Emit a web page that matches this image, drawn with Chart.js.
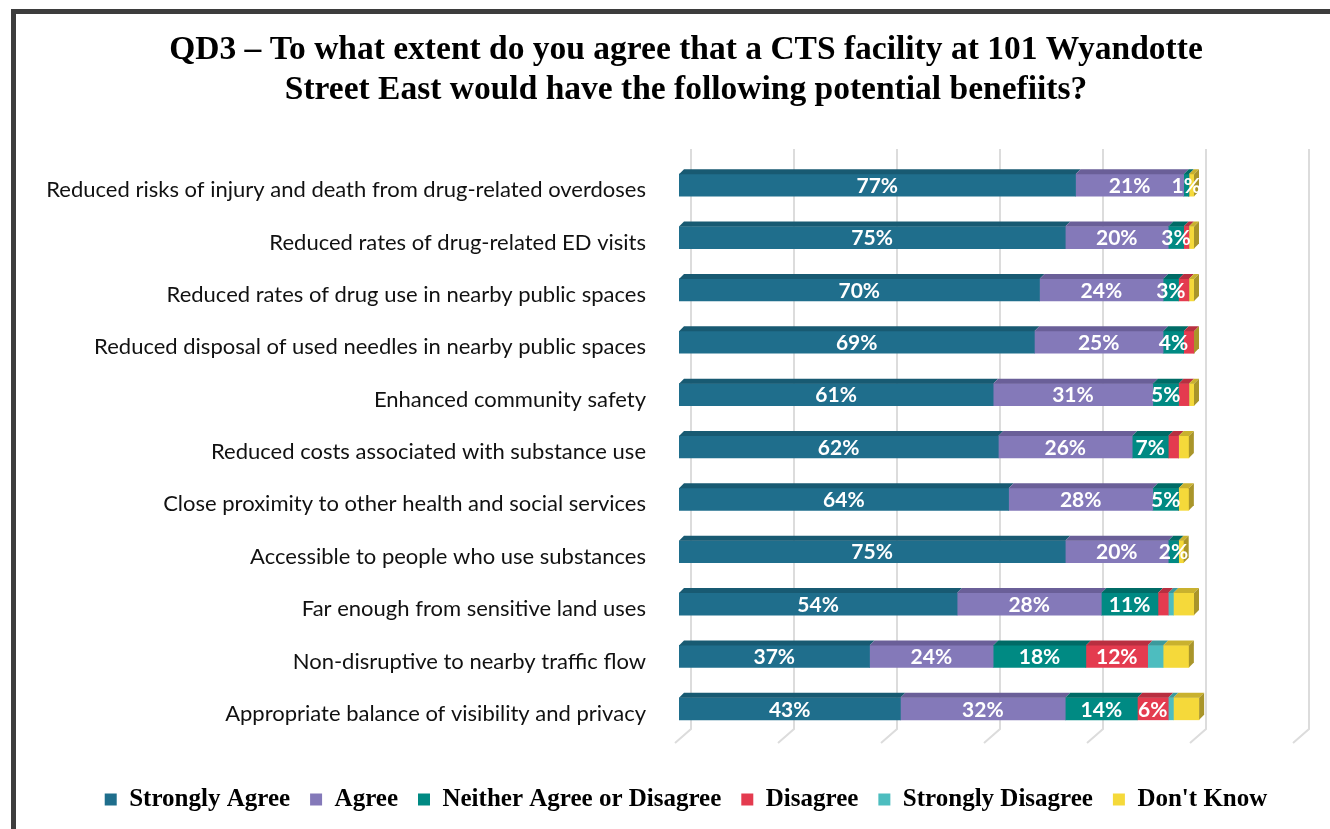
<!DOCTYPE html>
<html lang="en">
<head>
<meta charset="UTF-8">
<title>QD3 potential benefits</title>
<script src="https://cdn.jsdelivr.net/npm/chart.js"></script>
<style>
    body { margin: 0; background: #fff; overflow: hidden; }
    #frame {
        position: absolute; left: 11px; top: 9px; width: 1400px; height: 900px;
        border-left: 5px solid #3d3d3d; border-top: 5px solid #3d3d3d;
    }
    #wrap { position: absolute; left: 16px; top: 14px; width: 1340px; height: 815px; }
</style>
</head>
<body>
<div id="frame"></div>
<div id="wrap"><canvas id="chart"></canvas></div>
<script>
// categories, top to bottom
const categories = [
    'Reduced risks of injury and death from drug-related overdoses',
    'Reduced rates of drug-related ED visits',
    'Reduced rates of drug use in nearby public spaces',
    'Reduced disposal of used needles in nearby public spaces',
    'Enhanced community safety',
    'Reduced costs associated with substance use',
    'Close proximity to other health and social services',
    'Accessible to people who use substances',
    'Far enough from sensitive land uses',
    'Non-disruptive to nearby traffic flow',
    'Appropriate balance of visibility and privacy'
];

// percentages per answer
const stronglyAgree    = [77, 75, 70, 69, 61, 62, 64, 75, 54, 37, 43];
const agree            = [21, 20, 24, 25, 31, 26, 28, 20, 28, 24, 32];
const neither          = [1, 3, 3, 4, 5, 7, 5, 2, 11, 18, 14];
const disagree         = [0, 1, 2, 2, 2, 2, 0, 0, 2, 12, 6];
const stronglyDisagree = [0, 0, 0, 0, 0, 0, 0, 0, 1, 3, 1];
const dontKnow         = [1, 1, 1, 0, 1, 2, 2, 1, 4, 5, 5];

const seriesNames = ['Strongly Agree', 'Agree', 'Neither Agree or Disagree', 'Disagree', 'Strongly Disagree', "Don't Know"];
const xTicks = [0, 20, 40, 60, 80, 100, 120];

const frontColors = ['#1f6e8c', '#8479b9', '#008a83', '#e43b4f', '#4dbdbf', '#f5d93a'];
const topColors   = ['#185a72', '#6a5f98', '#006b66', '#b82f40', '#3c9a9c', '#c9b12e'];
const sideColor = '#a9952a';
const depth = 5;

// gridlines with a floor, bar top faces, end faces and value labels
const bar3d = {
    id: 'bar3d',
    beforeDatasetsDraw(chart) {
        const { ctx, chartArea, scales: { x } } = chart;
        ctx.save();
        ctx.strokeStyle = '#dcdcdc';
        ctx.lineWidth = 2;
        xTicks.forEach(v => {
            const px = x.getPixelForValue(v);
            ctx.beginPath();
            ctx.moveTo(px + 12, chartArea.top - 10);
            ctx.lineTo(px + 12, chartArea.bottom - 6);
            ctx.lineTo(px - 4, chartArea.bottom + 8);
            ctx.stroke();
        });
        ctx.restore();
    },
    afterDatasetsDraw(chart) {
        const ctx = chart.ctx;
        ctx.save();
        const ends = [];
        chart.data.datasets.forEach((ds, i) => {
            const meta = chart.getDatasetMeta(i);
            meta.data.forEach((el, j) => {
                const p = el.getProps(['x', 'y', 'base', 'height'], true);
                const top = p.y - p.height / 2;
                if (p.x - p.base > 0.5) {
                    ctx.fillStyle = topColors[i];
                    ctx.beginPath();
                    ctx.moveTo(p.base, top);
                    ctx.lineTo(p.base + depth, top - depth);
                    ctx.lineTo(p.x + depth, top - depth);
                    ctx.lineTo(p.x, top);
                    ctx.closePath();
                    ctx.fill();
                }
                if (ends[j] === undefined || p.x > ends[j].x) ends[j] = { x: p.x, top: top, bottom: top + p.height };
            });
        });
        ends.forEach(e => {
            ctx.fillStyle = sideColor;
            ctx.beginPath();
            ctx.moveTo(e.x, e.top);
            ctx.lineTo(e.x + depth, e.top - depth);
            ctx.lineTo(e.x + depth, e.bottom - depth);
            ctx.lineTo(e.x, e.bottom);
            ctx.closePath();
            ctx.fill();
        });

        ctx.fillStyle = '#fff';
        ctx.font = 'bold 21px Lato';
        ctx.textAlign = 'center';
        ctx.textBaseline = 'middle';
        chart.data.datasets.forEach((ds, i) => {
            if (i > 3) return;
            const meta = chart.getDatasetMeta(i);
            meta.data.forEach((el, j) => {
                const v = ds.data[j];
                if (v <= 0 || (i === 3 && v < 5)) return;
                const p = el.getProps(['x', 'y', 'base'], true);
                ctx.fillText(v + '%', (p.x + p.base) / 2, p.y + 1);
            });
        });
        ctx.restore();
    }
};

const values = [stronglyAgree, agree, neither, disagree, stronglyDisagree, dontKnow];

const chart = new Chart(document.getElementById('chart'), {
    type: 'bar',
    data: {
        labels: categories,
        datasets: values.map((d, i) => ({
            label: seriesNames[i],
            data: d,
            backgroundColor: frontColors[i],
            borderWidth: 0,
            barThickness: 22
        }))
    },
    options: {
        responsive: true,
        maintainAspectRatio: false,
        animation: false,
        indexAxis: 'y',
        layout: { padding: { left: 0, right: 0, top: 0, bottom: 7 } },
        scales: {
            x: {
                stacked: true, min: 0, max: 120,
                grid: { display: false },
                border: { display: false },
                ticks: { display: false },
                afterFit(scale) { scale.height = 32; }
            },
            y: {
                stacked: true,
                grid: { display: false },
                border: { display: false },
                ticks: {
                    font: { family: 'Lato', size: 22 },
                    color: '#111',
                    padding: 25,
                    labelOffset: 5
                },
                afterFit(scale) { scale.width = 663; }
            },
            // empty right-hand space, keeps the title centred over the whole frame
            y2: {
                type: 'linear',
                position: 'right',
                grid: { display: false },
                border: { display: false },
                ticks: { display: false },
                afterFit(scale) { scale.width = 59; }
            }
        },
        plugins: {
            title: {
                display: true,
                text: ['QD3 \u2013 To what extent do you agree that a CTS facility at 101 Wyandotte',
                       'Street East would have the following potential benefiits?'],
                font: { family: 'Liberation Serif', size: 33.5, weight: 'bold', lineHeight: 40 / 33.5 },
                color: '#000',
                padding: { top: 16, bottom: 49 }
            },
            legend: {
                position: 'bottom',
                labels: {
                    boxWidth: 12,
                    boxHeight: 12,
                    padding: 20,
                    color: '#000',
                    font: { family: 'Liberation Serif', size: 25, weight: 'bold' }
                }
            },
            tooltip: { enabled: false }
        }
    },
    plugins: [bar3d]
});
</script>
</body>
</html>
